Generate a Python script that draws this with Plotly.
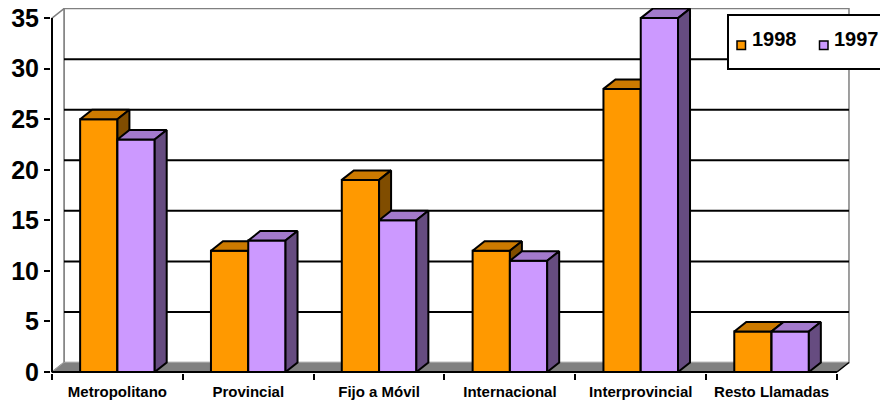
import plotly.graph_objects as go

# ---- data -------------------------------------------------------------
categories = ["Metropolitano", "Provincial", "Fijo a Móvil",
              "Internacional", "Interprovincial", "Resto Llamadas"]
series_names = ["1998", "1997"]
values_1998 = [25, 12, 19, 12, 28, 4]
values_1997 = [23, 13, 15, 11, 35, 4]
y_tick_values = [0, 5, 10, 15, 20, 25, 30, 35]

# ---- styling ----------------------------------------------------------
FRONT = {"1998": "#FF9900", "1997": "#CC99FF"}
TOP = {"1998": "#CC7A00", "1997": "#A37ACC"}
SIDE = {"1998": "#804D00", "1997": "#664C80"}
WALL_EDGE = "#808080"
FLOOR = "#808080"
FONT = "Liberation Sans, Arial, sans-serif"

W, H = 880, 403
M_L, M_R, M_T, M_B = 51, 30, 8, 30
PX_PER_CAT = 130.83
plot_w = W - M_L - M_R
plot_h = H - M_T - M_B

x_min = -0.5 - 1 / PX_PER_CAT
x_max = x_min + plot_w / PX_PER_CAT
y_min, y_max = -0.1, 36.0
px_per_unit = plot_h / (y_max - y_min)

# 3-D depth offset of walls and bars, in axis units
dx = 12 / PX_PER_CAT
dy = 9.5 / px_per_unit
y_top = y_tick_values[-1]
bar_w = 0.285
x_lo, x_hi = -0.5, len(categories) - 0.5

values = {"1998": values_1998, "1997": values_1997}


def poly(xs, ys, fill, width=2, color="black"):
    return go.Scatter(
        x=list(xs) + [xs[0]], y=list(ys) + [ys[0]],
        mode="lines", fill="toself", fillcolor=fill,
        line=dict(color=color, width=width),
        hoverinfo="skip", showlegend=False,
    )


def path(points):
    return "M " + " L ".join(f"{x},{y}" for x, y in points) + " Z"


fig = go.Figure()

# ---- walls, floor and gridlines ----------------------------------------
shapes = []
# back wall
shapes.append(dict(type="path", xref="x", yref="y", layer="below",
                   path=path([(x_lo + dx, dy), (x_lo + dx, y_top + dy),
                              (x_hi + dx, y_top + dy), (x_hi + dx, dy)]),
                   fillcolor="white", line=dict(color=WALL_EDGE, width=1.5)))
# side wall
shapes.append(dict(type="path", xref="x", yref="y", layer="below",
                   path=path([(x_lo, 0), (x_lo, y_top),
                              (x_lo + dx, y_top + dy), (x_lo + dx, dy)]),
                   fillcolor="white", line=dict(color=WALL_EDGE, width=1.5)))
# gridlines on the back wall
for v in y_tick_values[1:-1]:
    shapes.append(dict(type="line", xref="x", yref="y", layer="below",
                       x0=x_lo + dx, x1=x_hi + dx, y0=v + dy, y1=v + dy,
                       line=dict(color="black", width=2)))
# floor
shapes.append(dict(type="path", xref="x", yref="y", layer="below",
                   path=path([(x_lo, 0), (x_hi, 0), (x_hi + dx, dy), (x_lo + dx, dy)]),
                   fillcolor=FLOOR, line=dict(color="#A0A0A0", width=1)))
# front edge of floor and right edge
shapes.append(dict(type="line", xref="x", yref="y", layer="above",
                   x0=x_lo, x1=x_hi, y0=0, y1=0,
                   line=dict(color="black", width=2)))
shapes.append(dict(type="line", xref="x", yref="y", layer="above",
                   x0=x_hi, x1=x_hi + dx, y0=0, y1=dy,
                   line=dict(color="black", width=1.5)))
# value axis line
shapes.append(dict(type="line", xref="x", yref="y", layer="above",
                   x0=x_lo, x1=x_lo, y0=0, y1=y_top,
                   line=dict(color="black", width=2)))

# ---- 3-D columns -------------------------------------------------------
for i in range(len(categories)):
    for k, name in enumerate(series_names):
        v = values[name][i]
        x0 = i - bar_w + k * bar_w
        x1 = x0 + bar_w
        # front face
        fig.add_trace(poly([x0, x1, x1, x0], [0, 0, v, v], FRONT[name]))
        # top face
        fig.add_trace(poly([x0, x1, x1 + dx, x0 + dx],
                           [v, v, v + dy, v + dy], TOP[name]))
        # right side face
        fig.add_trace(poly([x1, x1 + dx, x1 + dx, x1],
                           [0, dy, v + dy, v], SIDE[name]))

# ---- legend box --------------------------------------------------------
def px_x(p):
    return (p - M_L) / plot_w


def px_y(p):
    return (H - M_B - p) / plot_h


shapes.append(dict(type="rect", xref="paper", yref="paper", layer="above",
                   x0=px_x(728), x1=px_x(890), y0=px_y(69), y1=px_y(15),
                   fillcolor="white", line=dict(color="black", width=2)))
annotations = []
for name, sx in zip(series_names, [737, 819.5]):
    shapes.append(dict(type="rect", xref="paper", yref="paper", layer="above",
                       x0=px_x(sx), x1=px_x(sx + 8.5), y0=px_y(49.5), y1=px_y(41),
                       fillcolor=FRONT[name], line=dict(color="black", width=1.5)))
    annotations.append(dict(text=name, xref="paper", yref="paper",
                            x=px_x(sx + 12.5), y=px_y(39), xanchor="left", yanchor="middle",
                            showarrow=False,
                            font=dict(family=FONT, size=20, color="black", weight="bold")))

fig.update_layout(
    width=W, height=H,
    margin=dict(l=M_L, r=M_R, t=M_T, b=M_B),
    paper_bgcolor="white", plot_bgcolor="white",
    showlegend=False,
    shapes=shapes, annotations=annotations,
    xaxis=dict(
        range=[x_min, x_max], showgrid=False, zeroline=False, showline=False,
        automargin=False,
        tickmode="array", tickvals=list(range(len(categories))), ticktext=categories,
        ticks="outside", ticklen=5, tickcolor="rgba(0,0,0,0)",
        tickfont=dict(family=FONT, size=15, color="black", weight="bold"),
        minor=dict(tickmode="array",
                   tickvals=[i - 0.5 for i in range(len(categories) + 1)],
                   ticks="outside", ticklen=6, tickwidth=2, tickcolor="black",
                   showgrid=False),
        fixedrange=True,
    ),
    yaxis=dict(
        range=[y_min, y_max], showgrid=False, zeroline=False, showline=False,
        automargin=False,
        tickmode="array", tickvals=y_tick_values,
        ticks="outside", ticklen=6, tickwidth=2, tickcolor="black",
        tickfont=dict(family=FONT, size=25, color="black", weight="bold"),
        fixedrange=True,
    ),
)

fig.write_html("out.html")
